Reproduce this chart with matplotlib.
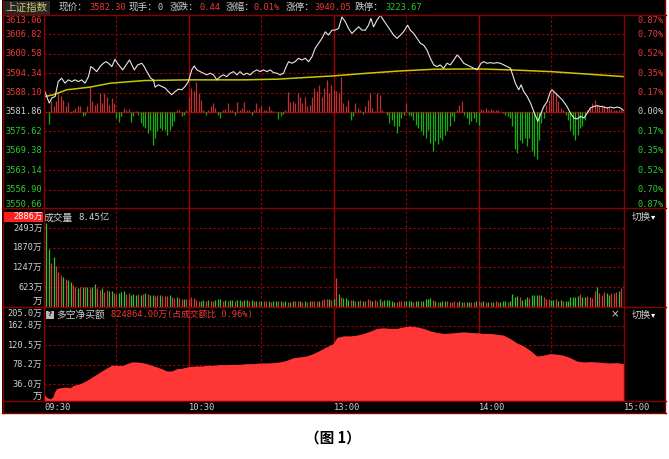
import numpy as np
import matplotlib
matplotlib.use("Agg")
import matplotlib.pyplot as plt
from matplotlib import transforms
from matplotlib.patches import Rectangle
from matplotlib.lines import Line2D

# ---------------- data ----------------
prev_close = 3581.86
price_levels = [3613.06, 3606.82, 3600.58, 3594.34, 3588.10, 3581.86,
                3575.62, 3569.38, 3563.14, 3556.90, 3550.66]

price_min = [0.1, 1.1, 2.2, 3.2, 4.6, 5.9, 7.3, 8.7, 10.1, 11.5,
             12.8, 14.2, 15.6, 17.0, 18.4, 19.4, 20.4, 21.8, 23.2, 24.6,
             25.7, 26.7, 28.1, 29.4, 30.4, 31.5, 32.6, 34.0, 35.4, 36.4,
             37.4, 38.8, 40.5, 41.5, 42.6, 44.2, 45.3, 46.0, 47.4, 48.8,
             50.2, 51.5, 52.9, 54.3, 55.7, 57.1, 58.4, 59.8, 61.2, 62.2,
             63.3, 64.7, 66.0, 67.4, 68.8, 70.2, 71.6, 73.0, 74.3, 75.7,
             77.1, 78.5, 79.9, 81.2, 82.6, 84.0, 85.4, 86.8, 88.2, 89.5,
             90.9, 92.3, 93.7, 95.0, 96.5, 97.8, 99.2, 100.3, 101.3, 102.7,
             104.0, 105.4, 106.8, 108.2, 109.6, 111.0, 112.3, 113.7, 115.1, 116.5,
             117.8, 119.3, 120.6, 122.0, 123.4, 124.8, 126.1, 127.5, 128.9, 130.3,
             131.7, 133.1, 134.4, 135.4, 136.5, 137.9, 139.3, 140.6, 142.0, 143.4,
             144.8, 146.2, 147.6, 148.9, 150.6, 151.7, 153.1, 154.5, 155.9, 157.2,
             158.6, 160.0, 161.4, 162.8, 164.1, 165.5, 166.9, 168.3, 169.7, 171.1,
             172.4, 173.8, 175.2, 176.6, 178.0, 179.4, 181.0, 182.1, 183.5, 184.9,
             186.2, 187.6, 189.0, 190.4, 191.8, 193.2, 194.3, 195.2, 196.6, 197.6,
             198.7, 200.1, 201.5, 202.8, 204.5, 205.6, 207.0, 208.4, 209.7, 210.4,
             211.8, 213.2, 214.6, 216.6, 218.0, 219.4, 220.8, 222.2, 223.6, 225.0,
             226.3, 227.7, 229.1, 230.5, 231.9, 233.3, 234.7, 236.0, 237.4, 238.8,
             240.0]
price_val = [3589.0, 3586.85, 3584.74, 3586.34, 3586.85, 3591.65, 3592.74, 3591.14, 3592.2, 3591.65,
             3592.2, 3591.65, 3592.2, 3591.14, 3593.25, 3596.45, 3595.94, 3594.85, 3596.45, 3597.54,
             3598.05, 3597.54, 3596.45, 3598.82, 3597.54, 3596.45, 3595.4, 3597.0, 3598.6, 3597.0,
             3595.4, 3597.0, 3597.54, 3596.45, 3594.85, 3592.74, 3592.2, 3589.86, 3590.6, 3590.05,
             3589.54, 3588.45, 3587.4, 3588.45, 3589.22, 3589.0, 3590.05, 3591.65, 3595.4, 3596.68,
             3595.4, 3594.85, 3594.34, 3593.8, 3594.34, 3593.8, 3592.2, 3593.25, 3593.8, 3593.25,
             3594.34, 3594.85, 3593.8, 3594.85, 3593.8, 3594.34, 3593.8, 3594.85, 3595.4, 3594.85,
             3595.4, 3594.85, 3595.4, 3594.53, 3594.34, 3593.8, 3594.34, 3596.45, 3598.05, 3597.54,
             3598.05, 3599.14, 3598.6, 3599.14, 3598.05, 3599.65, 3602.34, 3603.94, 3605.54, 3607.65,
             3606.6, 3608.2, 3608.2, 3608.74, 3612.45, 3610.85, 3608.74, 3607.14, 3608.2, 3609.25,
             3608.2, 3608.2, 3609.8, 3611.94, 3609.25, 3611.4, 3613.0, 3611.4, 3609.8, 3608.2,
             3606.6, 3605.54, 3606.6, 3607.65, 3609.8, 3608.2, 3607.14, 3605.54, 3603.94, 3603.4,
             3601.8, 3599.14, 3597.0, 3596.45, 3597.0, 3595.94, 3597.54, 3597.0, 3598.6, 3600.2,
             3599.14, 3597.54, 3597.0, 3596.45, 3595.94, 3595.4, 3597.54, 3598.05, 3597.54, 3597.73,
             3597.54, 3597.73, 3597.54, 3597.0, 3596.45, 3595.94, 3593.25, 3591.14, 3589.0, 3590.6,
             3588.45, 3586.85, 3584.74, 3582.05, 3578.85, 3581.0, 3583.65, 3585.25, 3588.36, 3589.0,
             3587.94, 3586.85, 3585.8, 3583.65, 3581.54, 3579.94, 3579.62, 3580.45, 3579.94, 3581.54,
             3583.14, 3583.65, 3583.88, 3583.65, 3583.46, 3583.14, 3583.46, 3583.14, 3583.46, 3583.14,
             3582.30]

avg_min = [0.5, 3.9, 9.4, 19.0, 27.6, 41.4, 59.4, 82.9, 96.7, 110.5,
           120.0, 134.0, 147.8, 161.6, 179.6, 193.4, 210.0, 223.8, 240.0]
avg_val = [3586.85, 3587.4, 3589.0, 3589.86, 3591.14, 3591.97, 3592.2, 3592.2, 3592.42, 3593.06,
           3593.48, 3594.34, 3595.08, 3595.62, 3595.72, 3595.4, 3594.85, 3594.12, 3593.25]

# buy/sell strength bars, one per minute (points relative to previous close)
strength = [0, 0, -3.84, 3.41, 1.81, 3.41, 6.08, 5.01, 3.95, 1.81,
            3.09, -0.32, 0.75, 1.28, 1.81, 1.81, -1.39, -0.85, 1.81, 8.0,
            3.41, 2.35, 2.88, 6.08, 2.88, 6.08, 4.98, 2.35, 4.48, 2.88,
            -1.92, -3.31, -1.39, 1.28, 0.75, 0.96, -3.31, -1.39, 0.21, -0.85,
            -3.52, -4.59, -5.12, -6.72, -5.65, -10.77, -8.32, -6.19, -5.12, -5.87,
            -5.65, -7.25, -5.65, -4.59, -2.99, 0.53, 0.75, -1.17, -0.85, 0.75,
            4.98, 7.68, 6.61, 9.81, 6.08, 3.95, 0.75, -0.85, 0.75, 1.81,
            2.88, 1.28, -0.85, -1.92, 0.75, 0.96, 2.88, 0.75, 0.53, -0.85,
            3.09, 0.75, 1.28, 3.09, 0.75, 0.53, -0.85, 0.53, 2.88, 1.28,
            1.81, 0.53, 0.75, 1.81, 0.53, 0.21, 0, -2.24, -1.39, -0.53,
            0.75, 6.29, 3.09, 3.41, 2.88, 6.08, 4.80, 2.88, 4.98, 1.81,
            2.35, 4.98, 7.68, 6.61, 8.75, 4.98, 7.68, 10.35, 6.08, 8.75,
            7.15, 6.61, 6.08, 11.4, 2.88, 1.81, 3.95, -2.45, -1.17, 2.88,
            1.28, 0.75, -0.64, 2.03, 3.95, 6.08, 1.28, 0.21, 6.08, 5.55,
            0.53, 0, -0.85, -3.52, -2.45, -4.59, -6.72, -4.59, -1.92, -0.85,
            2.88, -0.85, -1.39, -2.45, -4.05, -5.12, -6.19, -7.25, -8.32, -5.65,
            -9.92, -12.59, -9.39, -10.45, -8.32, -8.86, -7.25, -6.19, -4.59, -1.39,
            -2.99, 0.75, 2.35, 3.41, -0.85, -1.92, -3.73, -2.99, -1.92, -3.31,
            -4.05, 0.96, 0.75, 1.28, 0.75, 0.96, 0.53, 0.75, 0.53, 0,
            -0.32, -0.85, -1.39, -1.92, -4.59, -12.06, -13.12, -8.86, -9.92, -8.5,
            -10.99, -8.32, -12.59, -14.19, -15.26, -8.86, -3.52, -1.92, 2.35, 3.95,
            6.08, 6.61, 6.08, 3.41, 1.28, 0.75, -0.85, -2.45, -5.65, -7.25,
            -8.86, -7.25, -5.12, -4.59, -2.45, 0.75, 1.28, 2.88, 3.95, 2.35,
            2.03, 2.35, 1.81, 1.6, 1.28, 0.96, 0.75, 0.53, 0.75, 0.75,
            0]

# volume per minute (万手) and direction (R = up, G = down)
volume = [1086, 2663, 1832, 1385, 1576, 1299, 1086, 1012, 937, 873,
          831, 767, 692, 639, 607, 639, 618, 639, 618, 586,
          639, 724, 607, 533, 586, 479, 533, 511, 511, 447,
          405, 447, 479, 511, 405, 447, 373, 405, 373, 405,
          383, 405, 426, 405, 373, 373, 341, 373, 373, 341,
          341, 341, 373, 298, 266, 298, 266, 234, 256, 234,
          234, 320, 266, 213, 192, 192, 213, 192, 213, 192,
          181, 213, 234, 245, 192, 213, 192, 213, 213, 181,
          213, 213, 192, 202, 202, 181, 213, 170, 192, 181,
          192, 181, 170, 170, 160, 170, 170, 170, 181, 160,
          170, 160, 160, 170, 170, 170, 181, 160, 170, 160,
          170, 170, 181, 192, 181, 213, 245, 256, 256, 224,
          256, 905, 405, 320, 288, 266, 213, 213, 213, 192,
          192, 213, 192, 181, 245, 213, 192, 213, 192, 234,
          192, 202, 213, 213, 181, 160, 160, 170, 170, 170,
          192, 170, 170, 160, 192, 181, 192, 181, 234, 256,
          266, 213, 181, 160, 160, 170, 170, 192, 149, 160,
          170, 149, 170, 149, 149, 138, 160, 138, 138, 192,
          170, 160, 170, 149, 160, 160, 149, 170, 138, 149,
          170, 192, 149, 181, 405, 320, 351, 320, 213, 256,
          298, 266, 373, 362, 362, 362, 383, 320, 234, 234,
          202, 213, 256, 192, 213, 192, 192, 192, 298, 298,
          320, 341, 405, 298, 298, 341, 320, 266, 511, 639,
          447, 383, 469, 447, 383, 426, 447, 479, 511, 607,
          852]
vol_dir = ("RGGRGRRRGR" "GGRRGRGRGR" "GGRRGRRGGR" "RGGGRRGGGR"
           "GRGRGGRRGR" "RRGRRGRRGR" "RRRRRGGRGR" "RGGGRGRGGR"
           "GGRGGRGRGR" "GRRGRGGRGR" "GRGGRRGRGR" "GRRRGRRRGR"
           "GRGRGGGRGR" "GRGRRRGRRG" "RGGGGGRRRR" "GGGRGGRGGG"
           "GRGRGGGRRR" "RRGGRGGRRG" "RRGRGRGRRG" "GGRGGGGRGG"
           "GRGGGRGRRR" "GGRGGRGGGG" "GGRGGRRRRG" "RRRGGRRRGR"
           "G")
vol_ticks = [623, 1247, 1870, 2493]
vol_top = 3126
vol_max_label = "2886万"
vol_total = "8.45亿"

# net buy amount (多空净买额)
net_min = [0, 1, 2.5, 3.6, 4.3, 5.2, 6.6, 8.7, 10.8, 12.2,
           14.9, 17.7, 20.4, 23.2, 25.9, 28.0, 30.1, 32.2, 34.3, 36.3,
           38.4, 40.5, 42.6, 44.6, 46.7, 48.8, 50.8, 52.9, 55.0, 57.0,
           59.1, 61.2, 63.3, 65.3, 67.4, 70.1, 72.9, 75.7, 78.4, 81.2,
           83.9, 86.7, 89.5, 92.2, 95.0, 97.7, 100.5, 103.3, 106.0, 108.8,
           111.5, 114.3, 117.0, 119.8, 121.3, 124.0, 126.8, 129.5, 132.3, 135.1,
           137.8, 140.6, 143.3, 146.1, 148.9, 151.6, 154.4, 157.2, 159.9, 162.7,
           165.4, 168.2, 171.0, 173.7, 176.5, 179.2, 182.0, 184.8, 187.5, 190.3,
           193.0, 195.8, 198.6, 201.3, 204.1, 206.8, 209.6, 212.4, 215.1, 217.9,
           220.6, 223.4, 226.2, 228.9, 231.7, 234.4, 237.2, 240]
net_val = [14.7, 7.3, 3.6, 7.3, 18.2, 25.6, 27.8, 29.2, 27.8, 32.9,
           36.5, 43.8, 52.6, 62.0, 70.8, 76.7, 76.7, 75.9, 80.3, 84.0,
           84.0, 82.5, 80.3, 76.7, 73.0, 69.3, 64.3, 64.3, 69.3, 70.0,
           73.0, 74.5, 75.2, 75.2, 76.7, 76.7, 78.2, 78.2, 78.8, 78.8,
           80.3, 80.3, 81.8, 81.8, 82.5, 84.0, 87.6, 93.4, 94.9, 97.1,
           102.2, 109.5, 116.8, 124.1, 137.3, 140.8, 140.8, 142.4, 146.1, 151.1,
           157.0, 158.4, 157.0, 157.0, 160.5, 162.1, 160.5, 157.0, 151.8, 148.3,
           146.1, 147.0, 148.3, 149.6, 148.3, 147.5, 146.1, 146.1, 144.5, 142.4,
           135.1, 125.5, 118.9, 109.5, 97.0, 98.6, 102.2, 101.0, 98.6, 93.4,
           86.1, 84.0, 84.7, 84.0, 82.5, 81.8, 82.5, 80.3]
net_ticks = [36.0, 78.2, 120.5, 162.8, 205.0]
net_title_value = "824864.00万(占成交额比 0.96%)"

time_ticks = [0, 60, 120, 180, 240]
time_labels = ["09:30", "10:30", "13:00", "14:00", "15:00"]
grid_dashed = [30, 90, 150, 210]
grid_solid = [60, 120, 180]

header_items = [("现价：", "3582.30", "up"), ("现手：", "0", "flat"),
                ("涨跌：", "0.44", "up"), ("涨幅：", "0.01%", "up"),
                ("涨停：", "3940.05", "up"), ("跌停：", "3223.67", "down")]

# ---------------- style ----------------
W, H = 669, 459
FRAME = "#8a0000"
GRID = "#a00000"
RED_T = "#f03838"
GRN_T = "#2ccc2c"
GRAY_T = "#d0d0d0"
MONO = ["DejaVu Sans Mono", "Noto Sans CJK SC"]
CJK = ["Noto Sans CJK SC", "DejaVu Sans"]
COL = {"up": RED_T, "down": GRN_T, "flat": GRAY_T}

fig = plt.figure(figsize=(W / 100, H / 100), dpi=100)
fig.patch.set_facecolor("white")


def fx(x):
    return x / W


def fy(y):
    return 1 - y / H


def rect_px(x0, y0, x1, y1):
    return [fx(x0), fy(y1), (x1 - x0) / W, (y1 - y0) / H]


def ftext(x, y, s, color, size, family=MONO, ha="left", va="center", **kw):
    fig.text(fx(x), fy(y), s, color=color, fontsize=size, family=family,
             ha=ha, va=va, **kw)


def fline(xs, ys, color=FRAME, lw=1.0):
    fig.add_artist(Line2D([fx(v) for v in xs], [fy(v) for v in ys],
                          transform=fig.transFigure, color=color, lw=lw, zorder=5))


fig.add_artist(Rectangle((fx(2), fy(413)), (664) / W, 413 / H,
                         transform=fig.transFigure, facecolor="black",
                         edgecolor="none", zorder=-10))

ax_p = fig.add_axes(rect_px(44, 15, 623.5, 209))
ax_v = fig.add_axes(rect_px(44, 208.3, 623.5, 306.6))
ax_n = fig.add_axes(rect_px(44, 306.4, 623.5, 400.5))
for ax in (ax_p, ax_v, ax_n):
    ax.set_facecolor("none")
    ax.set_axis_off()
    ax.set_xlim(0, 240)
    for m in grid_dashed:
        ax.axvline(m, color=GRID, lw=0.8, ls=(0, (2, 2)), zorder=1)
    for m in grid_solid:
        ax.axvline(m, color=GRID, lw=1.0, zorder=1)

# ---- price panel ----
ax_p.set_ylim(price_levels[-1], price_levels[0])
for lv in price_levels[1:-1]:
    if lv == prev_close:
        ax_p.axhline(lv, color=GRID, lw=1.0, zorder=1)
    else:
        ax_p.axhline(lv, color=GRID, lw=0.8, ls=(0, (2, 2)), zorder=1)
mins = np.arange(len(strength))
st = np.array(strength)
nz = st != 0
ax_p.vlines(mins[nz], prev_close, prev_close + st[nz],
            colors=np.where(st[nz] > 0, "#c03030", "#12b012"), lw=0.9, zorder=2)
ax_p.plot(avg_min, avg_val, color="#c8c800", lw=1.1, zorder=3)
ax_p.plot(price_min, price_val, color="#e6e6e6", lw=0.8, zorder=4)

bl = transforms.blended_transform_factory(fig.transFigure, ax_p.transData)
n_lv = len(price_levels)
for i, lv in enumerate(price_levels):
    c = RED_T if lv > prev_close else (GRN_T if lv < prev_close else GRAY_T)
    pct = abs(lv - prev_close) / prev_close * 100
    dy = -4.0 if i == 0 else (3.5 if i == n_lv - 1 else 0)
    ax_p.annotate(f"{lv:.2f}", xy=(fx(42.5), lv), xycoords=bl,
                  xytext=(0, dy), textcoords="offset points",
                  ha="right", va="center", color=c, fontsize=6.2, family=MONO,
                  annotation_clip=False)
    ax_p.annotate(f"{pct:.2f}%", xy=(fx(637), lv), xycoords=bl,
                  xytext=(0, dy), textcoords="offset points",
                  ha="left", va="center", color=c, fontsize=6.2, family=MONO,
                  annotation_clip=False)

# ---- volume panel ----
ax_v.set_ylim(0, vol_top)
for t in vol_ticks:
    ax_v.axhline(t, color=GRID, lw=0.8, ls=(0, (2, 2)), zorder=1)
vcols = ["#d03c3c" if d == "R" else "#30c030" for d in vol_dir]
ax_v.vlines(np.arange(len(volume)), 0, volume, colors=vcols, lw=0.9, zorder=2)
blv = transforms.blended_transform_factory(fig.transFigure, ax_v.transData)
for t in vol_ticks:
    ax_v.text(fx(42.5), t, f"{t}万", transform=blv, ha="right", va="center",
              color=GRAY_T, fontsize=6.2, family=MONO)
ax_v.annotate("万", xy=(fx(42.5), 0), xycoords=blv, xytext=(0, 4),
              textcoords="offset points", ha="right", va="center",
              color=GRAY_T, fontsize=6.8, family=CJK, annotation_clip=False)

# ---- net buy panel ----
ax_n.set_ylim(0, net_ticks[-1])
for t in net_ticks[:-1]:
    ax_n.axhline(t, color=GRID, lw=0.8, ls=(0, (2, 2)), zorder=1)
ax_n.fill_between(net_min, 0, net_val, color="#ff3636", lw=0, zorder=2)
bln = transforms.blended_transform_factory(fig.transFigure, ax_n.transData)
for i, t in enumerate(net_ticks):
    dy = -5.0 if i == len(net_ticks) - 1 else 0
    ax_n.annotate(f"{t:.1f}万", xy=(fx(42.5), t), xycoords=bln, xytext=(0, dy),
                  textcoords="offset points", ha="right", va="center",
                  color=GRAY_T, fontsize=6.2, family=MONO, annotation_clip=False)
ax_n.annotate("万", xy=(fx(42.5), 0), xycoords=bln, xytext=(0, 3),
              textcoords="offset points", ha="right", va="center",
              color=GRAY_T, fontsize=6.8, family=CJK, annotation_clip=False)

# time labels
blt = transforms.blended_transform_factory(ax_n.transData, fig.transFigure)
for m, lab in zip(time_ticks, time_labels):
    ax_n.text(m, fy(407.5), lab, transform=blt, ha="left", va="center",
              color=GRAY_T, fontsize=6.3, family=MONO)

# ---- frame lines ----
fline([2, 666], [15, 15])
fline([2, 666], [208.5, 208.5])
fline([2, 666], [306.5, 306.5])
fline([2, 666], [401, 401])
fline([2, 666], [412.5, 412.5])
fline([3, 3], [0, 413])
fline([44, 44], [15, 401])
fline([623.5, 623.5], [15, 401])
fline([665, 665], [0, 413])

# ---- header ----
fig.add_artist(Rectangle((fx(3.5), fy(14.5)), 46 / W, 14 / H, transform=fig.transFigure,
                         facecolor="#262626", edgecolor="none", zorder=1))
ftext(5, 7.5, "上证指数", "#cfc270", 7.6, family=CJK)
hx = [59, 129, 170, 226, 286, 355]
vx = [89, 158, 199, 253, 314, 385]
for (lab, val, kind), x0, x1 in zip(header_items, hx, vx):
    ftext(x0, 7.5, lab, GRAY_T, 6.9, family=CJK)
    ftext(x1, 7.5, val, COL[kind], 6.2)

# volume header
fig.add_artist(Rectangle((fx(3.5), fy(221.5)), 39.5 / W, 10 / H, transform=fig.transFigure,
                         facecolor="#ff2020", edgecolor="none", zorder=1))
ftext(42.5, 216.5, vol_max_label, "white", 6.2, ha="right")
ftext(44, 217.5, "成交量", GRAY_T, 7.0, family=CJK)
ftext(78, 217.5, vol_total, GRAY_T, 6.6)
ftext(632, 217.5, "切换", GRAY_T, 6.9, family=CJK)
ftext(651, 216.5, "▾", "white", 6.0, family=["DejaVu Sans"])

# net buy header
fig.add_artist(Rectangle((fx(46), fy(318.5)), 7.5 / W, 8 / H, transform=fig.transFigure,
                         facecolor="#b8b8b8", edgecolor="none", zorder=6))
ftext(49.8, 314.5, "?", "#202020", 5.2, family=["DejaVu Sans"], ha="center",
      weight="bold", zorder=7)
ftext(56, 314.5, "多空净买额", GRAY_T, 7.0, family=CJK)
ftext(111, 314.5, net_title_value, RED_T, 6.3)
ftext(615, 314, "×", GRAY_T, 7.5, family=["DejaVu Sans"], ha="center")
ftext(632, 315.5, "切换", GRAY_T, 6.9, family=CJK)
ftext(651, 314.5, "▾", "white", 6.0, family=["DejaVu Sans"])

# caption
ftext(333, 438, "（图 1）", "black", 10.5, family=CJK, ha="center", weight="bold")

fig.savefig("out.png", dpi=100, facecolor="white")
